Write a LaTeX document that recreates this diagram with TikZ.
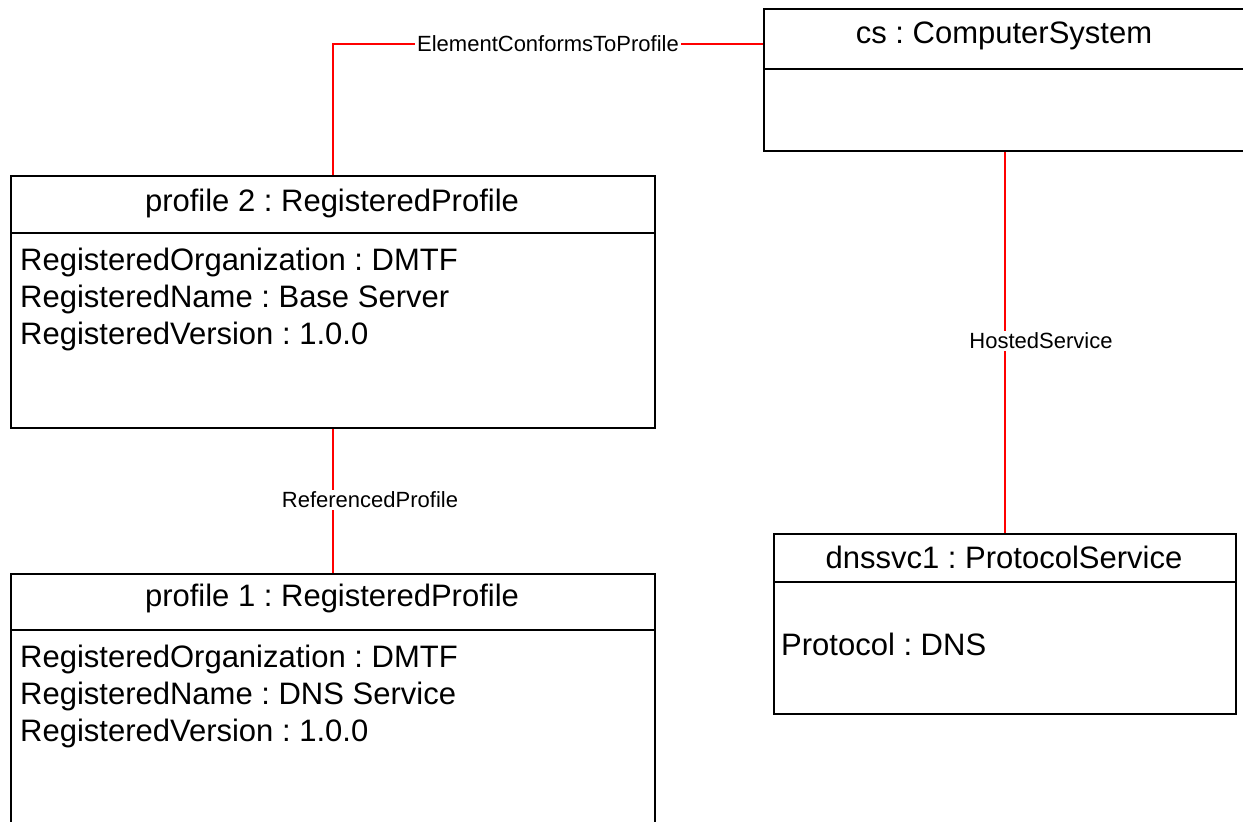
\documentclass[tikz,border=0pt]{standalone}
\usepackage{fontspec}
\setmainfont{Liberation Sans}
\usetikzlibrary{calc}
\frenchspacing
\begin{document}
\frenchspacing
\begin{tikzpicture}[x=1pt,y=-1pt,
  box/.style={draw,line width=2pt,rectangle,inner sep=0pt,anchor=north west},
  rel/.style={draw=red,line width=2pt},
  lbl/.style={font=\fontsize{22}{26}\selectfont,fill=white,inner sep=2pt},
  title/.style={font=\fontsize{31}{37}\selectfont,inner sep=0pt},
  attr/.style={font=\fontsize{31}{37}\selectfont,anchor=west,align=left,inner sep=0pt}]
\useasboundingbox (0,0) rectangle (1243,822);
% boxes
\node[box,minimum width=644pt,minimum height=252pt] (p2) at (10,175) {};
\node[box,minimum width=644pt,minimum height=300pt] (p1) at (10,573) {};
\node[box,minimum width=482pt,minimum height=142pt] (cs) at (763,8) {};
\node[box,minimum width=462pt,minimum height=180pt] (dns) at (773,533) {};
% dividers
\draw[line width=2pt] ($(p2.north west)+(0,58)$) -- ($(p2.north east)+(0,58)$);
\draw[line width=2pt] ($(p1.north west)+(0,57)$) -- ($(p1.north east)+(0,57)$);
\draw[line width=2pt] ($(cs.north west)+(0,61)$) -- ($(cs.north east)+(0,61)$);
\draw[line width=2pt] ($(dns.north west)+(0,49)$) -- ($(dns.north east)+(0,49)$);
% titles
\node[title] (p2t) at (332,203) {profile 2 : RegisteredProfile};
\node[title] (p1t) at (332,598) {profile 1 : RegisteredProfile};
\node[title] (cst) at (1004,36) {cs : ComputerSystem};
\node[title] (dnst) at (1004,557) {dnssvc1 : ProtocolService};
% attributes
\node[attr] (p2a) at (20,299) {RegisteredOrganization : DMTF\\RegisteredName : Base Server\\RegisteredVersion : 1.0.0};
\node[attr] (p1a) at (20,696) {RegisteredOrganization : DMTF\\RegisteredName : DNS Service\\RegisteredVersion : 1.0.0};
\node[attr] (dnsa) at (781,644) {Protocol : DNS};
% connectors
\coordinate (csin) at ($(cs.north west)+(0,36)$);
\draw[rel] (p2.north) |- (csin) node[lbl,pos=0.75] {ElementConformsToProfile};
\draw[rel] (p2.south) -- (p1.north);
\node[lbl] (reflbl) at (370,500) {ReferencedProfile};
\draw[rel] (cs.south) -- (dns.north);
\node[lbl] (hostlbl) at (1041,341) {HostedService};
\end{tikzpicture}
\end{document}
